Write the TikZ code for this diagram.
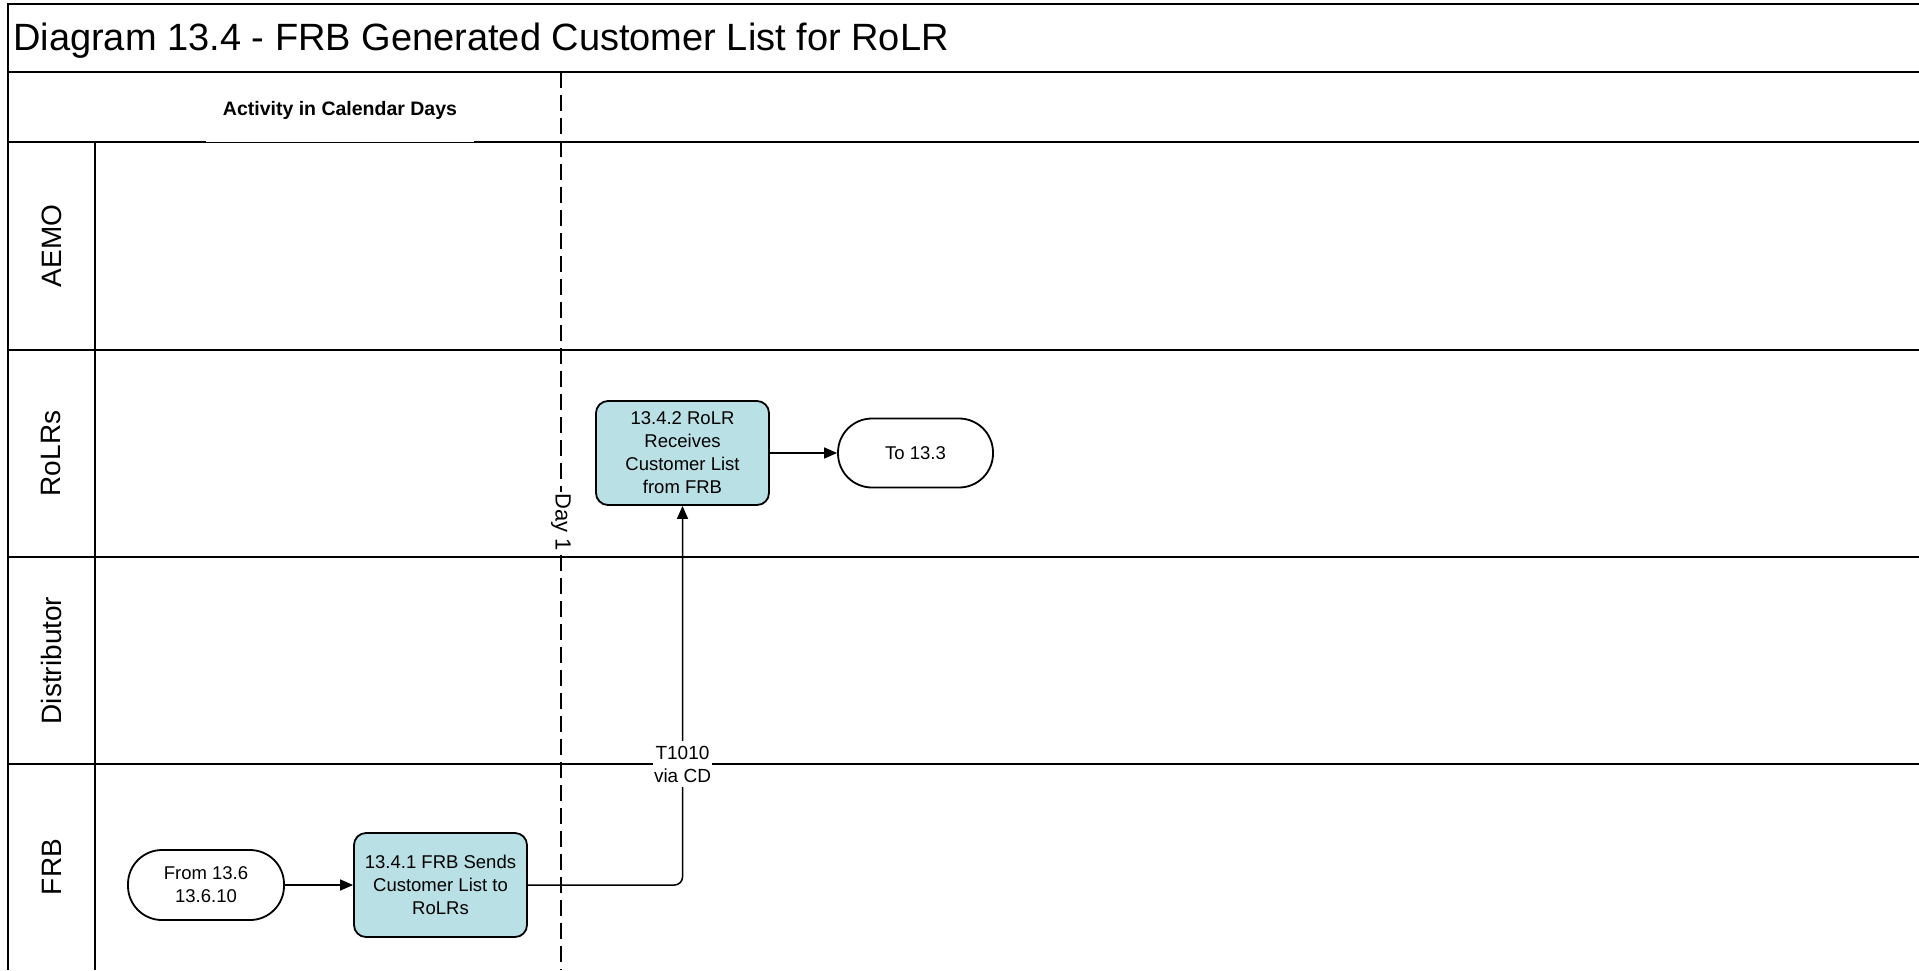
\documentclass[tikz,border=0pt]{standalone}
\usepackage{fontspec}
\setmainfont{Liberation Sans}
\usetikzlibrary{arrows.meta}
\definecolor{procfill}{RGB}{185,224,228}
\begin{document}
\begin{tikzpicture}[x=1pt,y=-1pt,
    frame/.style={line width=2pt},
    lane/.style={rotate=90,font=\fontsize{28}{32}\selectfont},
    proc/.style={draw,line width=1.8pt,fill=procfill,rounded corners=12pt,
      minimum width=173pt,minimum height=104pt,inner sep=0pt,align=center,
      font=\fontsize{18.5}{23}\selectfont},
    term/.style={draw,line width=1.8pt,fill=white,rounded corners=34pt,
      minimum width=156pt,minimum height=70pt,inner sep=0pt,align=center,
      font=\fontsize{18.5}{23}\selectfont},
    flow/.style={line width=1.5pt,-{Triangle[length=13pt,width=11pt]}}]
  \useasboundingbox (0,0) rectangle (1919,970);
  % frame and title
  \draw[frame] (1919,4) -- (8,4) -- (8,970);
  \draw[frame] (8,72) -- (1919,72);
  \node[anchor=base west,inner sep=0pt,font=\fontsize{38}{44}\selectfont]
    (title) at (13,50) {Diagram 13.4 - FRB Generated Customer List for RoLR};
  % header row
  \node[anchor=base,inner sep=0pt,font=\bfseries\fontsize{19.5}{23}\selectfont]
    (hdr) at (340,115) {Activity in Calendar Days};
  \coordinate (hl) at (206,142);
  \coordinate (hr) at (474,142);
  \draw[frame] (8,142) -- (hl);
  \draw[line width=1pt] (hl) -- (hr);
  \draw[frame] (hr) -- (1919,142);
  % day marker
  \draw[line width=1.5pt,dash pattern=on 16pt off 7pt] (561,72) -- (561,970);
  \node[rotate=-90,fill=white,inner sep=1pt,font=\fontsize{22}{26}\selectfont]
    (day) at (561,522) {Day 1};
  % lanes
  \draw[line width=1.5pt] (95,142) -- (95,970);
  \draw[frame] (8,350) -- (1919,350);
  \draw[frame] (8,557) -- (1919,557);
  \draw[frame] (8,764) -- (1919,764);
  \node[lane] (aemo) at (51.5,246) {AEMO};
  \node[lane] (rolrs) at (51.5,453.5) {RoLRs};
  \node[lane] (dist) at (51.5,660.5) {Distributor};
  \node[lane] (frb) at (51.5,867) {FRB};
  % steps
  \node[term] (from) at (206,885) {From 13.6\\13.6.10};
  \node[proc] (s1) at (440.5,885) {13.4.1 FRB Sends\\Customer List to\\RoLRs};
  \node[proc] (s2) at (682.5,453) {13.4.2 RoLR\\Receives\\Customer List\\from FRB};
  \node[term,minimum width=155pt,minimum height=69pt] (to) at (915.5,453) {To 13.3};
  \draw[flow] (from) -- (s1);
  \draw[flow] (s2) -- (to);
  \draw[flow,rounded corners=8pt] (s1.east) -| (s2.south);
  \node[fill=white,inner xsep=1pt,inner ysep=5pt,align=center,
    font=\fontsize{19}{23}\selectfont] (t1010) at (682.5,764) {T1010\\via CD};
\end{tikzpicture}
\end{document}
